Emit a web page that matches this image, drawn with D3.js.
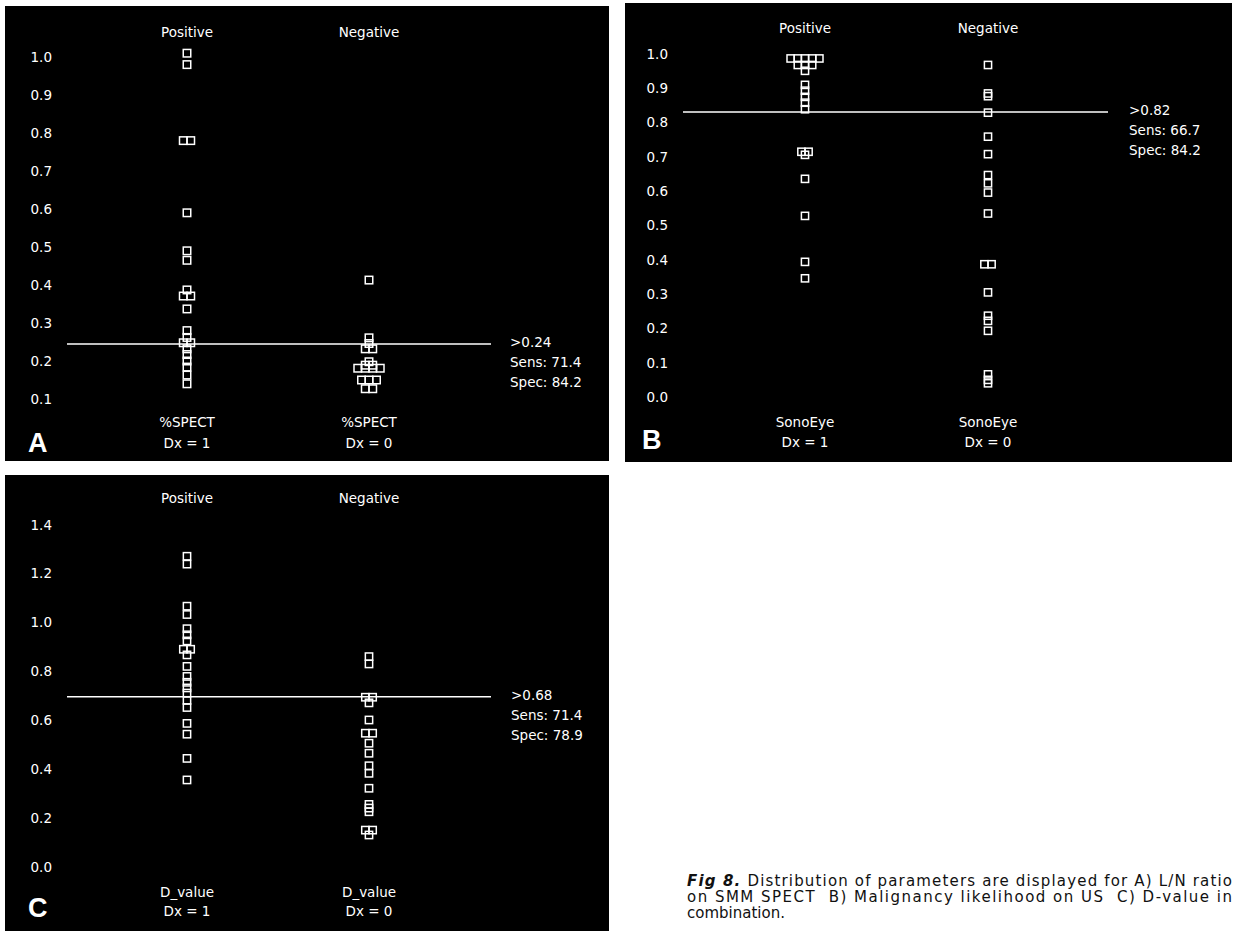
<!DOCTYPE html>
<html><head><meta charset="utf-8">
<script src="https://cdn.jsdelivr.net/npm/d3@7"></script>
<style>body{margin:0;background:#fff}svg{display:block}</style>
</head><body>
<script>
// ---------- data ----------
const groups = ["Positive", "Negative"];
const dxLabels = ["Dx = 1", "Dx = 0"];
const measureNames = ["%SPECT", "SonoEye", "D_value"];
const panelLetters = ["A", "B", "C"];

const ticksA = [0.1, 0.2, 0.3, 0.4, 0.5, 0.6, 0.7, 0.8, 0.9, 1.0];
const ticksB = [0.0, 0.1, 0.2, 0.3, 0.4, 0.5, 0.6, 0.7, 0.8, 0.9, 1.0];
const ticksC = [0.0, 0.2, 0.4, 0.6, 0.8, 1.0, 1.2, 1.4];

const aPositive = [1.01, 0.98, 0.78, 0.78, 0.59, 0.49, 0.465, 0.387, 0.371, 0.371, 0.337, 0.28, 0.262, 0.248, 0.248, 0.232, 0.217, 0.2, 0.184, 0.163, 0.14];
const aNegative = [0.413, 0.261, 0.246, 0.232, 0.232, 0.198, 0.189, 0.189, 0.181, 0.181, 0.181, 0.181, 0.15, 0.15, 0.15, 0.127, 0.127];

const bPositive = [0.987, 0.987, 0.987, 0.987, 0.987, 0.968, 0.968, 0.968, 0.951, 0.91, 0.893, 0.875, 0.858, 0.839, 0.715, 0.715, 0.706, 0.636, 0.528, 0.394, 0.346];
const bNegative = [0.968, 0.885, 0.877, 0.829, 0.759, 0.708, 0.647, 0.623, 0.596, 0.535, 0.387, 0.387, 0.305, 0.237, 0.222, 0.193, 0.066, 0.05, 0.04];

const cPositive = [1.271, 1.239, 1.067, 1.033, 0.975, 0.95, 0.925, 0.891, 0.891, 0.868, 0.821, 0.78, 0.756, 0.733, 0.712, 0.682, 0.653, 0.588, 0.544, 0.445, 0.357];
const cNegative = [0.861, 0.831, 0.695, 0.695, 0.672, 0.602, 0.548, 0.548, 0.507, 0.466, 0.415, 0.384, 0.323, 0.257, 0.242, 0.227, 0.152, 0.152, 0.132];

const cutValues = [0.245, 0.831, 0.697];
const cutLabels = [">0.24", ">0.82", ">0.68"];
const sensLabels = ["Sens: 71.4", "Sens: 66.7", "Sens: 71.4"];
const specLabels = ["Spec: 84.2", "Spec: 84.2", "Spec: 78.9"];

const captionLines = [
  ["Fig 8.", " Distribution of parameters are displayed for A) L/N ratio"],
  ["", "on SMM SPECT\u00a0\u00a0B) Malignancy likelihood on US\u00a0\u00a0C) D-value in"],
  ["", "combination."]
];

// ---------- drawing ----------
const FONT = "'DejaVu Sans', sans-serif";
const svg = d3.select("body").append("svg").attr("width", 1235).attr("height", 931);
svg.append("rect").attr("width", 1235).attr("height", 931).attr("fill", "#fff");

const panels = [
  { box: [5, 6, 609, 461], domain: [0.1, 1.0], yRange: [399, 57], ticks: ticksA, fmt: ".1f",
    xRange: [187, 369], axisX: 52, lineX: [67, 491], statX: 510,
    headerY: 32, bottomY: [422, 443], letterPos: [28, 443], values: [aPositive, aNegative], size: 7.5 },
  { box: [625, 3, 1232, 462], domain: [0, 1.0], yRange: [397, 54], ticks: ticksB, fmt: ".1f",
    xRange: [805, 988], axisX: 668, lineX: [683, 1108], statX: 1129,
    headerY: 28, bottomY: [422, 442], letterPos: [642, 440], values: [bPositive, bNegative], size: 7.2 },
  { box: [5, 475, 609, 931], domain: [0, 1.4], yRange: [867.3, 524.7], ticks: ticksC, fmt: ".1f",
    xRange: [187, 369], axisX: 52, lineX: [67, 491], statX: 511,
    headerY: 498, bottomY: [892, 911], letterPos: [28, 908], values: [cPositive, cNegative], size: 7.3 }
];

function layout(vals, step) {
  // identical values are spread side by side, centred on the column
  const counts = d3.rollup(vals, v => v.length, d => d);
  const seen = new Map();
  return vals.map(v => {
    const n = counts.get(v);
    const i = seen.get(v) || 0;
    seen.set(v, i + 1);
    return { v, off: (i - (n - 1) / 2) * step };
  });
}

panels.forEach((p, pi) => {
  const g = svg.append("g");
  g.append("rect")
    .attr("x", p.box[0]).attr("y", p.box[1])
    .attr("width", p.box[2] - p.box[0]).attr("height", p.box[3] - p.box[1])
    .attr("fill", "#000");

  const y = d3.scaleLinear().domain(p.domain).range(p.yRange);
  const x = d3.scalePoint().domain(groups).range(p.xRange);

  const ag = g.append("g").attr("transform", `translate(${p.axisX},0)`)
    .call(d3.axisLeft(y).tickValues(p.ticks).tickFormat(d3.format(p.fmt)).tickSize(0).tickPadding(0));
  ag.select(".domain").remove();
  ag.selectAll("line").remove();
  ag.attr("font-family", FONT).attr("font-size", 13.5);
  ag.selectAll("text").attr("fill", "#fff");

  // threshold line
  g.append("line")
    .attr("x1", p.lineX[0]).attr("x2", p.lineX[1])
    .attr("y1", y(cutValues[pi])).attr("y2", y(cutValues[pi]))
    .attr("stroke", "#fff").attr("stroke-width", 1.5);

  // headers and bottom labels
  groups.forEach((gr, k) => {
    g.append("text").attr("x", x(gr)).attr("y", p.headerY)
      .attr("text-anchor", "middle").attr("dominant-baseline", "central")
      .attr("fill", "#fff").attr("font-family", FONT).attr("font-size", 13.5).text(gr);
    g.append("text").attr("x", x(gr)).attr("y", p.bottomY[0])
      .attr("text-anchor", "middle").attr("dominant-baseline", "central")
      .attr("fill", "#fff").attr("font-family", FONT).attr("font-size", 13.5).text(measureNames[pi]);
    g.append("text").attr("x", x(gr)).attr("y", p.bottomY[1])
      .attr("text-anchor", "middle").attr("dominant-baseline", "central")
      .attr("fill", "#fff").attr("font-family", FONT).attr("font-size", 13.5).text(dxLabels[k]);

    const pts = layout(p.values[k], p.size);
    g.append("g").selectAll("rect").data(pts).join("rect")
      .attr("x", d => x(gr) + d.off - p.size / 2)
      .attr("y", d => y(d.v) - p.size / 2)
      .attr("width", p.size).attr("height", p.size)
      .attr("fill", "none").attr("stroke", "#fff").attr("stroke-width", 1.5);
  });

  // stats
  [cutLabels[pi], sensLabels[pi], specLabels[pi]].forEach((t, i) => {
    g.append("text").attr("x", p.statX).attr("y", y(cutValues[pi]) - 1.5 + i * 19.7)
      .attr("dominant-baseline", "central")
      .attr("fill", "#fff").attr("font-family", FONT).attr("font-size", 13.5).text(t);
  });

  // panel letter
  g.append("text").attr("x", p.letterPos[0]).attr("y", p.letterPos[1])
    .attr("dominant-baseline", "central")
    .attr("fill", "#fff").attr("font-family", "'Liberation Sans', Arial, sans-serif")
    .attr("font-weight", "bold").attr("font-size", 27).text(panelLetters[pi]);
});

// caption
const capY = [885.5, 901.5, 918];
captionLines.forEach((ln, i) => {
  const t = svg.append("text").attr("x", 687).attr("y", capY[i])
    .attr("font-family", "'DejaVu Sans', sans-serif").attr("font-size", 15).attr("fill", "#111");
  if (i < 2) t.attr("textLength", 545).attr("lengthAdjust", "spacing");
  if (ln[0]) t.append("tspan").attr("font-weight", "bold").attr("font-style", "italic").text(ln[0]);
  t.append("tspan").text(ln[1]);
});
</script>
</body></html>
